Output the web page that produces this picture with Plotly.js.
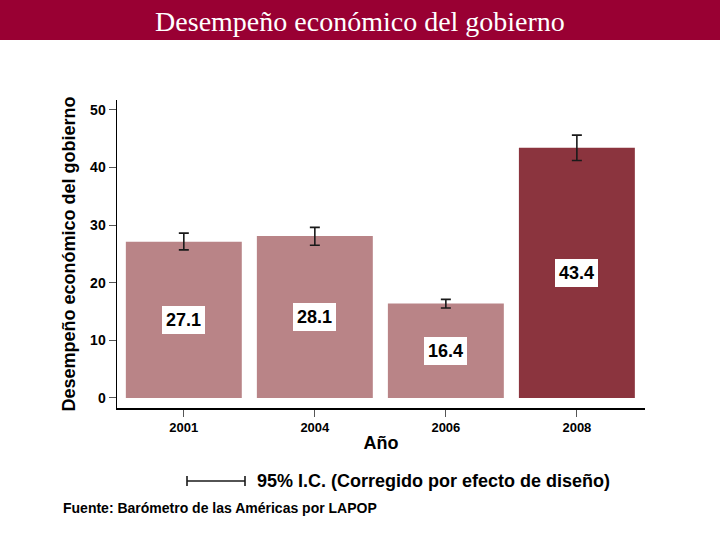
<!DOCTYPE html>
<html>
<head>
<meta charset="utf-8">
<script src="https://cdn.plot.ly/plotly-3.0.1.min.js"></script>
<style>html,body{margin:0;padding:0;background:#fff;}#chart{width:720px;height:540px;}</style>
</head>
<body>
<div id="chart"></div>
<script>
const years = ['2001', '2004', '2006', '2008'];
const values = [27.1, 28.1, 16.4, 43.4];
const ciUpper = [28.6, 29.6, 17.1, 45.6];
const ciLower = [25.7, 26.5, 15.6, 41.2];
const yTicks = [0, 10, 20, 30, 40, 50];

const L = 117, R = 75, T = 100, B = 132, W = 720, H = 540;
const pw = W - L - R, ph = H - T - B;
const px = x => (x - L) / pw;
const py = y => (H - B - y) / ph;

const lightColor = '#B98487';
const darkColor = '#8B343E';
const barColors = years.map((y, i) => i === years.length - 1 ? darkColor : lightColor);

const trace = {
  type: 'bar',
  x: years,
  y: values,
  width: 0.885,
  marker: {color: barColors, line: {width: 0}},
  error_y: {
    type: 'data',
    symmetric: false,
    array: values.map((v, i) => ciUpper[i] - v),
    arrayminus: values.map((v, i) => v - ciLower[i]),
    color: '#1a1a1a',
    thickness: 1.6,
    width: 5
  },
  hoverinfo: 'none'
};

const boldFont = 'Liberation Sans, Arial, sans-serif';

const annotations = years.map((yr, i) => ({
  x: i, y: values[i] / 2, xref: 'x', yref: 'y',
  text: '<b>' + values[i].toFixed(1) + '</b>',
  showarrow: false,
  font: {family: boldFont, size: 18, color: '#000'},
  bgcolor: '#ffffff',
  borderpad: 4,
  borderwidth: 0
}));

annotations.push({
  x: px(255), y: py(481), xref: 'paper', yref: 'paper',
  xanchor: 'left', yanchor: 'middle',
  text: '<b>95% I.C. (Corregido por efecto de diseño)</b>',
  showarrow: false,
  font: {family: boldFont, size: 18, color: '#000'}
});
annotations.push({
  x: px(61), y: py(508), xref: 'paper', yref: 'paper',
  xanchor: 'left', yanchor: 'middle',
  text: '<b>Fuente: Barómetro de las Américas por LAPOP</b>',
  showarrow: false,
  font: {family: boldFont, size: 14, color: '#000'}
});

const shapes = [
  {type: 'rect', xref: 'paper', yref: 'paper', layer: 'below',
   x0: px(0), x1: px(W), y0: py(40), y1: py(0),
   fillcolor: '#990033', line: {width: 0}},
  {type: 'line', xref: 'paper', yref: 'paper',
   x0: px(187), x1: px(245), y0: py(481), y1: py(481),
   line: {color: '#1a1a1a', width: 1.6}},
  {type: 'line', xref: 'paper', yref: 'paper',
   x0: px(187), x1: px(187), y0: py(476), y1: py(486),
   line: {color: '#1a1a1a', width: 1.6}},
  {type: 'line', xref: 'paper', yref: 'paper',
   x0: px(245), x1: px(245), y0: py(476), y1: py(486),
   line: {color: '#1a1a1a', width: 1.6}}
];

const layout = {
  width: W, height: H,
  margin: {l: L, r: R, t: T, b: B, pad: 0},
  paper_bgcolor: '#ffffff',
  plot_bgcolor: '#ffffff',
  showlegend: false,
  title: {
    text: 'Desempeño económico del gobierno',
    font: {family: 'Liberation Serif, Times New Roman, serif', size: 28, color: '#ffffff'},
    x: 0.5, xanchor: 'center', xref: 'container',
    y: 1 - 21 / H, yanchor: 'middle', yref: 'container'
  },
  xaxis: {
    type: 'category',
    range: [-0.51, 3.52],
    tickvals: years,
    ticktext: years.map(y => '<b>' + y + '</b>'),
    showgrid: false, zeroline: false,
    showline: true, linecolor: '#000', linewidth: 1.5,
    ticks: 'outside', ticklen: 7, tickwidth: 1, tickcolor: '#555',
    tickfont: {family: boldFont, size: 13, color: '#000'},
    title: {text: '<b>Año</b>', font: {family: boldFont, size: 18, color: '#000'}, standoff: 2},
    fixedrange: true
  },
  yaxis: {
    range: [-1.74, 51.7],
    tickvals: yTicks,
    ticktext: yTicks.map(v => '<b>' + v + '</b>'),
    showgrid: false, zeroline: false,
    showline: true, linecolor: '#000', linewidth: 1.5,
    ticks: 'outside', ticklen: 7, tickwidth: 1, tickcolor: '#555',
    tickfont: {family: boldFont, size: 14, color: '#000'},
    title: {text: '<b>Desempeño económico del gobierno</b>', font: {family: boldFont, size: 18, color: '#000'}, standoff: 10},
    fixedrange: true
  },
  annotations: annotations,
  shapes: shapes,
  bargap: 0.1
};

Plotly.newPlot('chart', [trace], layout, {displayModeBar: false, staticPlot: true});
</script>
</body>
</html>
